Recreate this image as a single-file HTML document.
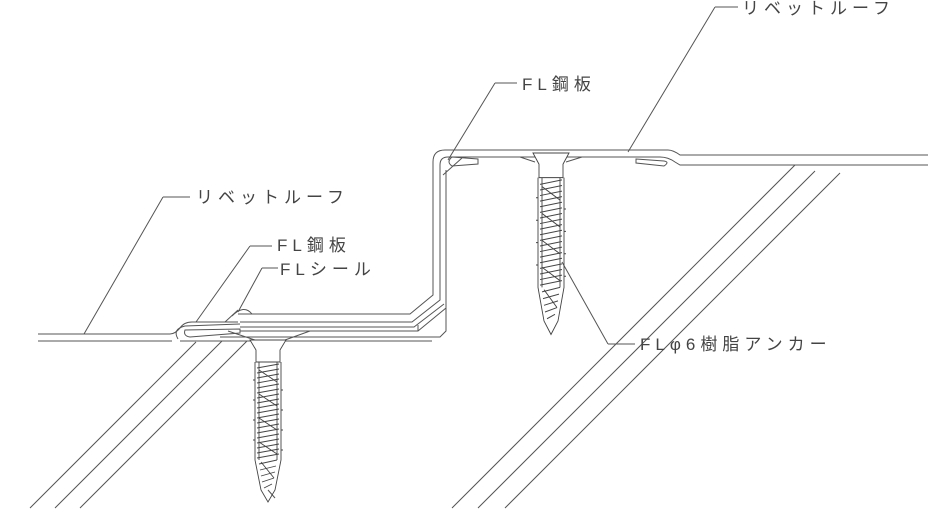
<!DOCTYPE html>
<html><head><meta charset="utf-8"><style>
html,body{margin:0;padding:0;background:#fff;}
svg{display:block}
text{font-family:"Liberation Sans","Noto Sans CJK JP",sans-serif;font-size:17px;fill:#444;letter-spacing:5px}
</style></head><body>
<svg width="928" height="522" viewBox="0 0 928 522" xmlns="http://www.w3.org/2000/svg">
<defs>
<g id="screw" stroke="#444" stroke-width="0.9" fill="none">
  <path d="M-18,0 L18,0 L12,10 L12,22 L-12,22 L-12,10 Z" fill="#fff"/>
  <path d="M-13,22 L-13,120 L-7,150 L0,162 L7,150 L13,120 L13,22"/>
  <path d="M-9,22 L-9,120 M9,22 L9,120"/>
  <g stroke-width="0.9">
   <path d="M-11,28 L11,24 M-11,33 L11,29 M-11,38 L11,34 M-11,43 L11,39 M-11,48 L11,44 M-11,53 L11,49 M-11,58 L11,54 M-11,63 L11,59 M-11,68 L11,64 M-11,73 L11,69 M-11,78 L11,74 M-11,83 L11,79 M-11,88 L11,84 M-11,93 L11,89 M-11,98 L11,94 M-11,103 L11,99 M-11,108 L11,104 M-11,113 L11,109 M-11,118 L11,114 M-9,124 L9,120 M-8,130 L8,126 M-7,136 L7,132 M-6,142 L6,138 M-4,148 L4,144"/>
   <path d="M-9,30 L9,42 M-9,54 L9,66 M-9,78 L9,90 M-9,102 L9,114 M-7,122 L6,138"/>
   <path d="M-15,40 L-13,40 M-15,60 L-13,60 M-15,80 L-13,80 M-15,100 L-13,100 M13,50 L15,50 M13,70 L15,70 M13,90 L15,90 M13,110 L15,110"/>
  </g>
</g>
</defs>
<g stroke="#555" stroke-width="1" fill="none">
<path d="M30,508 L196,342 M55,508 L222,341 M80,508 L247,341"/>
<path d="M452,508 L795,165 M478,508 L815,171 M505,508 L840,173"/>
<path d="M38,334 L170,334 Q175,334 180,328 Q184,322 192,322 L238,322"/>
<path d="M38,341 L172,341 M180,341 L432,341"/>
<path d="M185,330 Q183,336 190,337 L240,333 L240,329 Z" />
<path d="M178,339 Q172,329 185,326 L240,324"/>
<path d="M232,316 Q244,304 252,314"/>
<path d="M225,322 L238,310"/>
<path d="M238,314 L410,314 L433,295 L433,162 Q433,150 445,150 L668,150 Q673,150 680,155 L928,155"/>
<path d="M240,322 L412,322 L440,300 L440,165 Q440,157 448,157 L660,157 Q668,157 675,162 L680,165 L928,165"/>
<path d="M240,327 L414,327 L444,304 M240,331 L418,331 L446,308 L446,170"/>
<path d="M220,337 L440,337 L446,331 L446,308"/>
<path d="M418,331 L418,325"/>
<path d="M452,157 Q446,162 452,166 L478,164 L478,159 Z"/>
<path d="M636,159 L664,161 Q670,162 664,166 L636,163 Z"/>
<path d="M443,175 L462,158"/>
<path d="M520,157 L535,162 M582,157 L566,162 M228,331 L255,340 M310,331 L285,340"/>
<path d="M715,7 L738,7 M715,7 L628,152"/>
<path d="M495,83 L517,83 M495,83 L448,160"/>
<path d="M163,197 L190,197 M163,197 L84,334"/>
<path d="M250,246 L272,246 M250,246 L196,322"/>
<path d="M262,268 L278,268 M262,268 L238,312"/>
<path d="M608,344 L635,344 M608,344 L562,262"/>
<path d="M268,490 L275,498"/>
</g>
<use href="#screw" x="268" y="340"/>
<use href="#screw" x="551" y="153" transform="translate(551,153) scale(1,1.12) translate(-551,-153)"/>
<text x="742" y="14">リベットルーフ</text>
<text x="522" y="90">FL鋼板</text>
<text x="196" y="203">リベットルーフ</text>
<text x="277" y="251">FL鋼板</text>
<text x="280" y="275">FLシール</text>
<text x="640" y="350">FLφ6樹脂アンカー</text>
</svg>
</body></html>
